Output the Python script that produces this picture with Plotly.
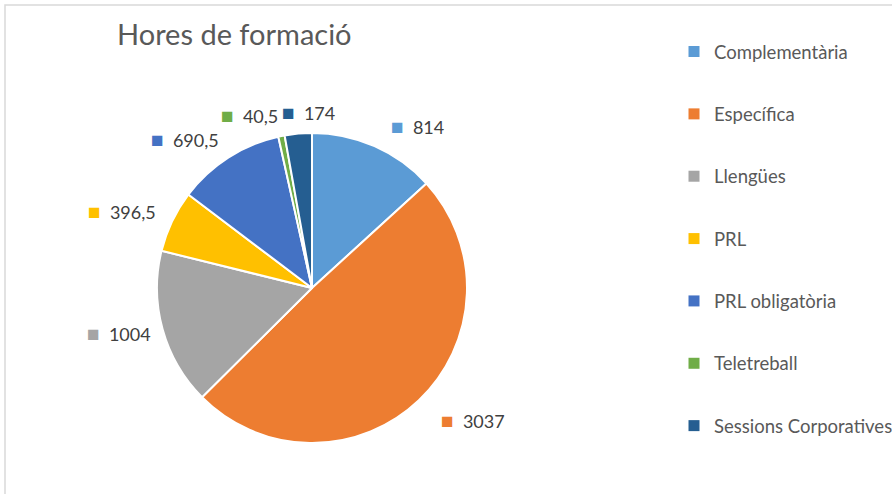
import math
import plotly.graph_objects as go

categories = ["Complementària", "Específica", "Llengües", "PRL", "PRL obligatòria", "Teletreball", "Sessions Corporatives"]
values = [814, 3037, 1004, 396.5, 690.5, 40.5, 174]
value_labels = ["814", "3037", "1004", "396,5", "690,5", "40,5", "174"]
colors = ["#5B9BD5", "#ED7D31", "#A5A5A5", "#FFC000", "#4472C4", "#70AD47", "#255E91"]

W, H = 892, 494
# pie placement (pixels)
cx, cy, r = 312, 288, 155
dom_x = [(cx - r) / W, (cx + r) / W]
dom_y = [(H - cy - r) / H, (H - cy + r) / H]

fig = go.Figure()
fig.add_trace(go.Pie(
    labels=categories, values=values, sort=False, direction="clockwise", rotation=0,
    marker=dict(colors=colors, line=dict(color="white", width=2)),
    textinfo="none", showlegend=False, domain=dict(x=dom_x, y=dom_y),
    hovertemplate="%{label}: %{value}<extra></extra>",
))

# legend entries
for i, (c, col) in enumerate(zip(categories, colors)):
    fig.add_trace(go.Scatter(
        x=[None], y=[None], mode="markers", name=c, legendgroup=f"g{i}",
        marker=dict(symbol="square", size=11, color=col),
    ))

# data labels: anchored just outside the slice along its mid-angle (Excel-like)
total = sum(values)
cum = 0.0
boxes = []
for v, lab, col in zip(values, value_labels, colors):
    mid = (cum + v / 2) / total * 2 * math.pi
    cum += v
    R = r + 20
    ax = cx + R * math.sin(mid)
    ay = cy - R * math.cos(mid)
    w = 22 + 9.2 * len(lab)
    if math.sin(mid) > 0:
        left = ax + 6
        ay += 10 * max(0.0, -math.cos(mid))
    else:
        left = ax - w
    boxes.append([left, w, ay - 2, lab, col])

# simple collision avoidance: push a label right if it overlaps the previous one
for i in range(1, len(boxes)):
    pl, pw, py = boxes[i - 1][0], boxes[i - 1][1], boxes[i - 1][2]
    l, w, y = boxes[i][0], boxes[i][1], boxes[i][2]
    if abs(y - py) < 18 and l < pl + pw + 2 and l + w > pl:
        boxes[i][0] = pl + pw + 2

annotations = []
for left, w, ay, lab, col in boxes:
    annotations.append(dict(
        x=left / W, y=1 - ay / H, xref="paper", yref="paper",
        text=f"<span style='color:{col};font-size:21px'>■</span>  {lab}",
        showarrow=False, xanchor="left", yanchor="middle",
        font=dict(family="Lato", size=18, color="#404040"),
    ))

fig.update_layout(
    width=W, height=H,
    margin=dict(l=0, r=0, t=0, b=0, autoexpand=False),
    paper_bgcolor="white", plot_bgcolor="white",
    title=dict(text="Hores de formació", x=117 / W, xanchor="left", y=1 - 35 / H, yanchor="middle",
               font=dict(family="Lato", size=29, color="#595959")),
    xaxis=dict(visible=False), yaxis=dict(visible=False),
    legend=dict(x=674 / W, xanchor="left", y=1 - 33 / H, yanchor="top", tracegroupgap=35.3,
                font=dict(family="Lato", size=18.5, color="#595959"), bgcolor="rgba(0,0,0,0)"),
    annotations=annotations,
    shapes=[dict(type="rect", xref="paper", yref="paper", x0=5 / W, x1=1.01, y0=-0.01, y1=1 - 5 / H,
                 line=dict(color="#D9D9D9", width=1.5))],
)

fig.write_html("out.html", config={"displayModeBar": False},
               post_script="document.body.style.margin='0';document.body.style.overflow='hidden';")
